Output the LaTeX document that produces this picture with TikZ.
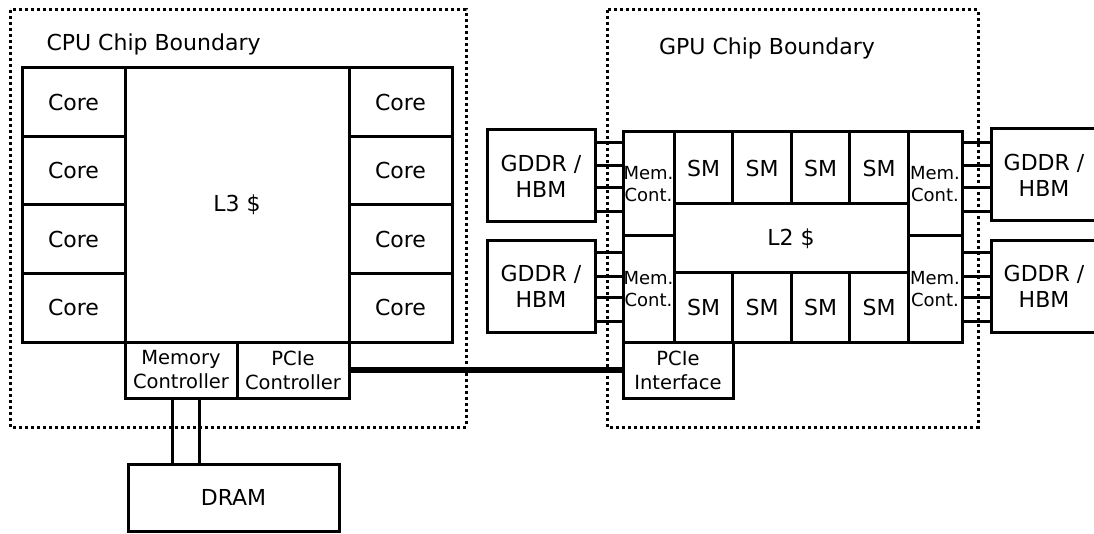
\documentclass[tikz,border=0pt]{standalone}
\usepackage{fontspec}
\setmainfont{DejaVu Sans}
\begin{document}
\begin{tikzpicture}[x=1pt,y=-1pt,
  box/.style={draw, line width=3pt, inner sep=0pt, outer sep=0pt, align=center, font=\fontsize{22}{26}\selectfont},
  small/.style={font=\fontsize{19.5}{24}\selectfont},
  tiny/.style={font=\fontsize{18}{22}\selectfont},
  chip/.style={line width=3pt, dash pattern=on 3pt off 3pt},
  wire/.style={line width=3pt},
  bus/.style={line width=5.5pt}]
\useasboundingbox (0,0) rectangle (1094,534);
\clip (0,0) rectangle (1094,534);
% chip boundaries
\draw[chip] (10,10) rectangle (466,427);
\draw[chip] (607,10) rectangle (978,427);
\node[anchor=base west, font=\fontsize{22}{26}\selectfont] (cpulbl) at (43,51) {CPU Chip Boundary};
\node[anchor=base, font=\fontsize{22}{26}\selectfont] (gpulbl) at (767,55) {GPU Chip Boundary};
% CPU
\foreach \i/\y in {1/102.25,2/170.75,3/239.25,4/307.75}{
  \node[box, minimum width=103, minimum height=68.5] (cl\i) at (73.5,\y) {Core};
  \node[box, minimum width=103, minimum height=68.5] (cr\i) at (400.5,\y) {Core};
}
\node[box, minimum width=224, minimum height=274] (l3) at (237,205) {L3 \$};
\node[box, small, minimum width=112, minimum height=56] (memctl) at (181,370) {Memory\\Controller};
\node[box, small, minimum width=112, minimum height=56] (pcictl) at (293,370) {PCIe\\Controller};
\node[box, minimum width=211, minimum height=67] (dram) at (233.5,497.5) {DRAM};
\draw[wire] (memctl.south -| 172,0) -- (dram.north -| 172,0);
\draw[wire] (memctl.south -| 199,0) -- (dram.north -| 199,0);
% GPU
\node[box, tiny, minimum width=51, minimum height=104] (mcl1) at (648.5,184) {Mem.\\Cont.};
\node[box, tiny, minimum width=51, minimum height=106] (mcl2) at (648.5,289) {Mem.\\Cont.};
\node[box, tiny, minimum width=54, minimum height=104] (mcr1) at (935,184) {Mem.\\Cont.};
\node[box, tiny, minimum width=54, minimum height=106] (mcr2) at (935,289) {Mem.\\Cont.};
\foreach \i/\x in {1/703.5,2/762,3/820.5,4/879}{
  \node[box, minimum width=58.5, minimum height=72] (smt\i) at (\x,168) {SM};
  \node[box, minimum width=58.5, minimum height=69] (smb\i) at (\x,307.5) {SM};
}
\node[box, minimum width=234, minimum height=69] (l2) at (791,238.5) {L2 \$};
\node[box, small, minimum width=110, minimum height=56] (pciif) at (678,370) {PCIe\\Interface};
\draw[bus] (pcictl.east |- 0,370) -- (pciif.west |- 0,370);
% memories
\node[box, minimum width=108, minimum height=92] (gl1) at (541,176) {GDDR /\\HBM};
\node[box, minimum width=108, minimum height=91] (gl2) at (541,286.5) {GDDR /\\HBM};
\node[box, minimum width=106, minimum height=92] (gr1) at (1044,175) {GDDR /\\HBM};
\node[box, minimum width=106, minimum height=91] (gr2) at (1044,286.5) {GDDR /\\HBM};
\foreach \y in {143,166,188,212}{
  \draw[wire] (gl1.east |- 0,\y) -- (mcl1.west |- 0,\y);
  \draw[wire] (mcr1.east |- 0,\y) -- (gr1.west |- 0,\y);
}
\foreach \y in {253,277,298,322}{
  \draw[wire] (gl2.east |- 0,\y) -- (mcl2.west |- 0,\y);
  \draw[wire] (mcr2.east |- 0,\y) -- (gr2.west |- 0,\y);
}
\end{tikzpicture}
\end{document}
